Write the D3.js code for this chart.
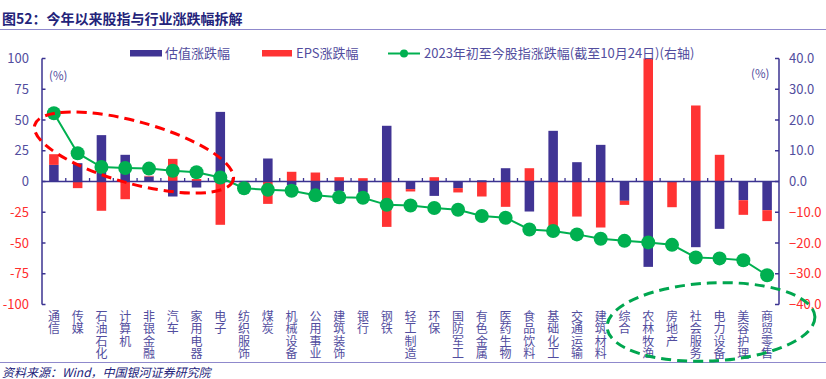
<!DOCTYPE html>
<html>
<head>
<meta charset="utf-8">
<script src="https://cdn.jsdelivr.net/npm/d3@7"></script>
<style>
  body { margin: 0; background: #fff; }
  svg text { font-family: "Noto Sans CJK SC", "Noto Sans", sans-serif; }
</style>
</head>
<body>
<div id="chart"></div>
<script>
// categories, left to right
var categories = ["通信", "传媒", "石油石化", "计算机", "非银金融", "汽车", "家用电器", "电子",
  "纺织服饰", "煤炭", "机械设备", "公用事业", "建筑装饰", "银行", "钢铁", "轻工制造", "环保",
  "国防军工", "有色金属", "医药生物", "食品饮料", "基础化工", "交通运输", "建筑材料", "综合",
  "农林牧渔", "房地产", "社会服务", "电力设备", "美容护理", "商贸零售"];

// 估值涨跌幅 (left axis, %)
var valuation = [13.5, 14.9, 37.7, 21.7, 4.1, -12.2, -4.9, 56.6,
  0.5, 18.7, -3, -8, -8, -9, 45.3, -6.2, -11.7,
  -5.4, 1.0, 10.8, -24.4, 41.2, 15.7, 29.8, -15.7,
  -69.4, 0, -53.4, -38.5, -15.2, -23.3];

// EPS涨跌幅 (left axis, %)
var eps = [8.7, -5.4, -23.8, -14.4, 0.5, 18.4, 2, -35.2,
  -1, -18.2, 7.9, 7.3, 3.5, 2.7, -36.9, -1.9, 3.5,
  -3.5, -12.2, -20.6, 10.8, -37.4, -28.5, -37.4, -3.3,
  100, -20.9, 61.8, 21.7, -11.9, -8.9];

// 2023年初至今股指涨跌幅 (right axis, %)
var indexChange = [22.2, 9.2, 4.7, 4.4, 4.2, 3.5, 3.0, 1.3,
  -2.2, -2.7, -3.0, -4.5, -5.1, -5.3, -7.6, -7.8, -8.6,
  -9.2, -11.2, -11.8, -15.6, -16.1, -17.2, -18.6, -19.3,
  -19.8, -20.6, -24.7, -25.0, -25.6, -30.5];

var leftTicks = [100, 75, 50, 25, 0, -25, -50, -75, -100];
var rightTicks = [40, 30, 20, 10, 0, -10, -20, -30, -40];

var W = 826, H = 379;
var plotLeft = 42, plotRight = 779, plotTop = 58.5, plotBottom = 304.5;
var axisColor = "#3b3391", labelColor = "#524d9e", negColor = "#ff2d2d";
var blue = "#403494", red = "#ff3333", green = "#00b050";

var svg = d3.select("#chart").append("svg")
  .attr("width", W).attr("height", H);

// title
svg.append("text")
  .attr("x", 2).attr("y", 24)
  .attr("font-size", 14).attr("font-weight", "bold")
  .attr("fill", "#23237a")
  .text("图52：今年以来股指与行业涨跌幅拆解");
svg.append("line")
  .attr("x1", 0).attr("x2", W).attr("y1", 29.5).attr("y2", 29.5)
  .attr("stroke", "#8f89cc").attr("stroke-width", 1.2);

var x = d3.scaleBand().domain(categories).range([plotLeft, plotRight])
  .paddingInner(0.6).paddingOuter(0.3);
var yL = d3.scaleLinear().domain([-100, 100]).range([plotBottom, plotTop]);
var yR = d3.scaleLinear().domain([-40, 40]).range([plotBottom, plotTop]);

// stacked bars (diverging)
var rows = categories.map(function (c, i) {
  return { cat: c, valuation: valuation[i], eps: eps[i] };
});
var stack = d3.stack().keys(["valuation", "eps"]).offset(d3.stackOffsetDiverging);
var series = stack(rows);
var colors = { valuation: blue, eps: red };

svg.selectAll("g.series")
  .data(series)
  .enter()
  .append("g")
  .attr("class", "series")
  .attr("fill", function (d) { return colors[d.key]; })
  .selectAll("rect")
  .data(function (d) { return d; })
  .enter()
  .append("rect")
  .attr("x", function (d) { return x(d.data.cat); })
  .attr("width", x.bandwidth())
  .attr("y", function (d) { return yL(Math.max(d[0], d[1])); })
  .attr("height", function (d) { return Math.abs(yL(d[0]) - yL(d[1])); });

// left axis
var gL = svg.append("g").attr("transform", "translate(" + plotLeft + ",0)");
gL.append("line").attr("y1", plotTop).attr("y2", plotBottom)
  .attr("stroke", axisColor).attr("stroke-width", 1.5);
gL.selectAll("line.tick").data(leftTicks).enter().append("line")
  .attr("class", "tick")
  .attr("x1", 0).attr("x2", 3.5)
  .attr("y1", function (d) { return yL(d); }).attr("y2", function (d) { return yL(d); })
  .attr("stroke", axisColor).attr("stroke-width", 1.5);
gL.selectAll("text").data(leftTicks).enter().append("text")
  .attr("x", -13).attr("y", function (d) { return yL(d); })
  .attr("dy", "0.35em").attr("text-anchor", "end")
  .attr("font-size", 13)
  .attr("fill", function (d) { return d < 0 ? negColor : labelColor; })
  .text(function (d) { return d; });

// right axis
var gR = svg.append("g").attr("transform", "translate(" + plotRight + ",0)");
gR.append("line").attr("y1", plotTop).attr("y2", plotBottom)
  .attr("stroke", axisColor).attr("stroke-width", 1.5);
gR.selectAll("line.tick").data(rightTicks).enter().append("line")
  .attr("class", "tick")
  .attr("x1", -4).attr("x2", 0)
  .attr("y1", function (d) { return yR(d); }).attr("y2", function (d) { return yR(d); })
  .attr("stroke", axisColor).attr("stroke-width", 1.5);
gR.selectAll("text").data(rightTicks).enter().append("text")
  .attr("x", 10).attr("y", function (d) { return yR(d); })
  .attr("dy", "0.35em").attr("text-anchor", "start")
  .attr("font-size", 13)
  .attr("fill", function (d) { return d < 0 ? negColor : labelColor; })
  .text(function (d) { return d3.format(".1f")(d); });

// (%) units
svg.append("text").attr("x", 49).attr("y", 80).attr("font-size", 11.5)
  .attr("fill", labelColor).text("(%)");
svg.append("text").attr("x", 751).attr("y", 78).attr("font-size", 11.5)
  .attr("fill", labelColor).text("(%)");

// zero line with category ticks
svg.append("line")
  .attr("x1", plotLeft).attr("x2", plotRight).attr("y1", yL(0)).attr("y2", yL(0))
  .attr("stroke", axisColor).attr("stroke-width", 1.5);
svg.selectAll("line.cattick")
  .data(categories.slice(1))
  .enter()
  .append("line")
  .attr("class", "cattick")
  .attr("x1", function (d) { return x(d) - x.step() * x.paddingInner() / 2; })
  .attr("x2", function (d) { return x(d) - x.step() * x.paddingInner() / 2; })
  .attr("y1", yL(0)).attr("y2", yL(0) - 3.5)
  .attr("stroke", axisColor).attr("stroke-width", 1.3);

// vertical category labels
svg.selectAll("text.cat")
  .data(categories)
  .enter()
  .append("text")
  .attr("class", "cat")
  .attr("font-size", 12)
  .attr("fill", labelColor)
  .attr("text-anchor", "middle")
  .each(function (d) {
    var t = d3.select(this);
    var cx = x(d) + x.bandwidth() / 2;
    d.split("").forEach(function (ch, i) {
      t.append("tspan").attr("x", cx).attr("y", 321 + i * 12.3).text(ch);
    });
  });

// line series on right axis
var cx = function (d, i) { return x(categories[i]) + x.bandwidth() / 2; };
var line = d3.line()
  .x(function (d, i) { return cx(d, i); })
  .y(function (d) { return yR(d); });
svg.append("path")
  .datum(indexChange)
  .attr("d", line)
  .attr("fill", "none")
  .attr("stroke", green).attr("stroke-width", 2);
svg.selectAll("circle.pt")
  .data(indexChange)
  .enter()
  .append("circle")
  .attr("class", "pt")
  .attr("cx", cx)
  .attr("cy", function (d) { return yR(d); })
  .attr("r", 7)
  .attr("fill", green);

// bottom rule and source
svg.append("line")
  .attr("x1", 0).attr("x2", W).attr("y1", 362.5).attr("y2", 362.5)
  .attr("stroke", "#8f89cc").attr("stroke-width", 1.2);
svg.append("text")
  .attr("x", 2).attr("y", 377)
  .attr("font-size", 12).attr("font-style", "italic")
  .attr("fill", "#23237a")
  .text("资料来源：Wind，中国银河证券研究院");

// highlight ellipses
svg.append("ellipse")
  .attr("transform", "translate(134,152.5) rotate(15.5)")
  .attr("rx", 103).attr("ry", 31)
  .attr("fill", "none").attr("stroke", "#ff0000")
  .attr("stroke-width", 3).attr("stroke-dasharray", "10,6");
svg.append("ellipse")
  .attr("transform", "translate(711,322) rotate(-3)")
  .attr("rx", 104).attr("ry", 39)
  .attr("fill", "none").attr("stroke", "#00a64f")
  .attr("stroke-width", 3).attr("stroke-dasharray", "10,6");

// legend
var lg = svg.append("g").attr("font-size", 13).attr("fill", labelColor);
lg.append("rect").attr("x", 130).attr("y", 50).attr("width", 32).attr("height", 6.5).attr("fill", blue);
lg.append("text").attr("x", 165).attr("y", 58).text("估值涨跌幅");
lg.append("rect").attr("x", 262).attr("y", 50).attr("width", 30).attr("height", 6.5).attr("fill", red);
lg.append("text").attr("x", 296).attr("y", 58).text("EPS涨跌幅");
lg.append("line").attr("x1", 388).attr("x2", 420).attr("y1", 53.5).attr("y2", 53.5)
  .attr("stroke", green).attr("stroke-width", 2);
lg.append("circle").attr("cx", 404).attr("cy", 53.5).attr("r", 4).attr("fill", green);
lg.append("text").attr("x", 424).attr("y", 58).text("2023年初至今股指涨跌幅(截至10月24日)(右轴)");
</script>
</body>
</html>
